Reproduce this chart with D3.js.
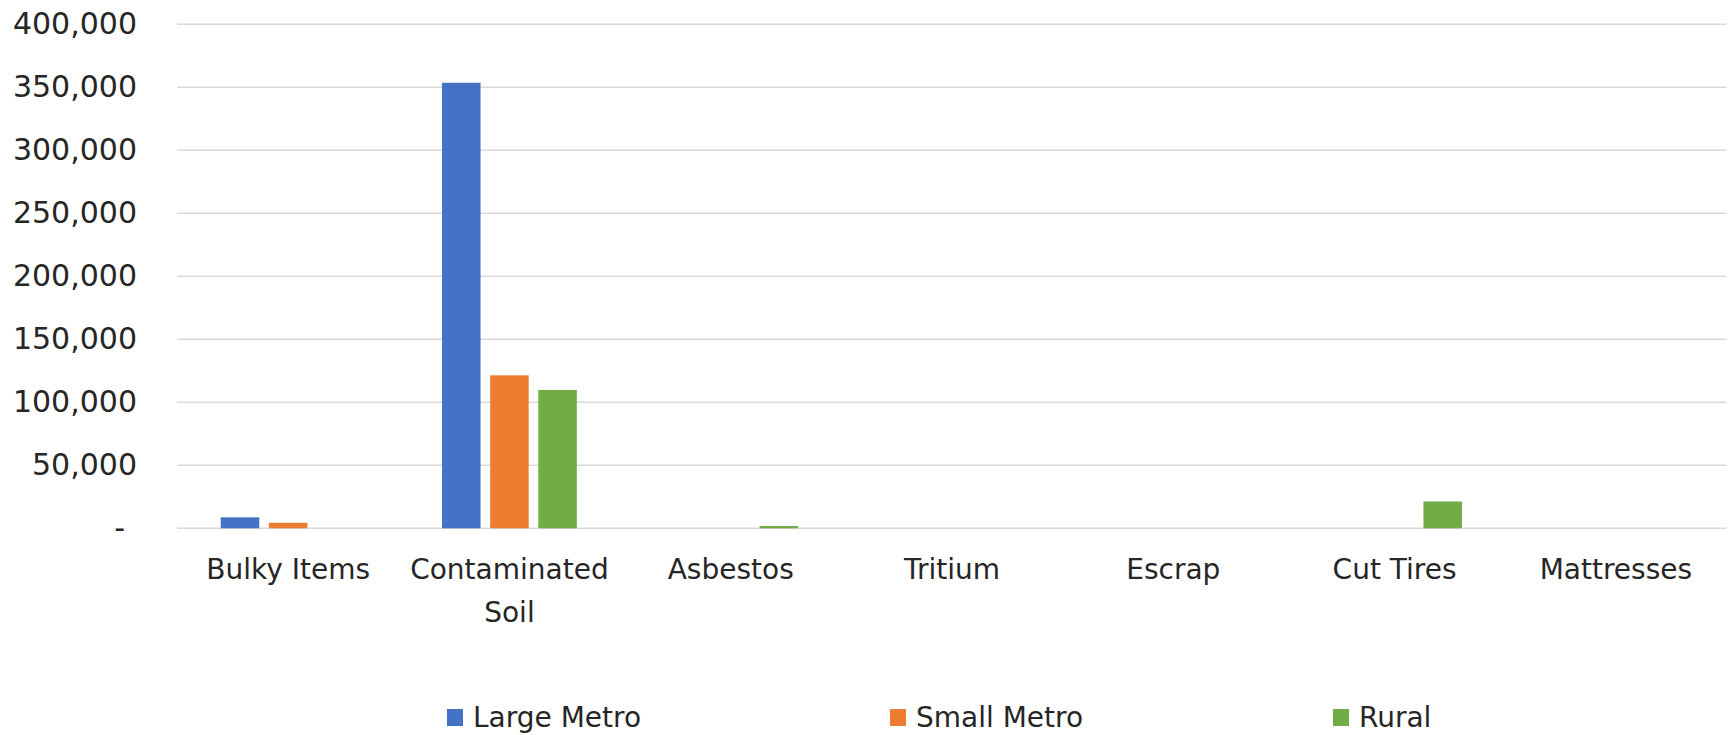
<!DOCTYPE html>
<html>
<head>
<meta charset="utf-8">
<script src="https://cdn.jsdelivr.net/npm/d3@7"></script>
<style>
  html, body { margin: 0; padding: 0; background: #fff; }
  svg { display: block; }
</style>
</head>
<body>
<script>
// ---- data ----
const categories = ["Bulky Items", "Contaminated Soil", "Asbestos", "Tritium", "Escrap", "Cut Tires", "Mattresses"];
const seriesNames = ["Large Metro", "Small Metro", "Rural"];
const largeMetro = [8700, 353600, 0, 0, 0, 0, 0];
const smallMetro = [4400, 121400, 0, 0, 0, 0, 0];
const rural      = [0, 109800, 1800, 0, 0, 21300, 0];
const yTicks = [0, 50000, 100000, 150000, 200000, 250000, 300000, 350000, 400000];
const colors = ["#4472C4", "#ED7D31", "#70AD47"];

const seriesValues = [largeMetro, smallMetro, rural];

const W = 1730, H = 735;
const svg = d3.select("body").append("svg").attr("width", W).attr("height", H);
svg.append("rect").attr("width", W).attr("height", H).attr("fill", "#fff");

const x0 = d3.scaleBand().domain(categories).range([177.5, 1726.5]).padding(0);
const x1 = d3.scaleBand().domain(seriesNames).range([0, x0.bandwidth()])
  .paddingInner(0.2).paddingOuter(0.898);
const y = d3.scaleLinear().domain([0, 400000]).range([528.3, 24.3]);

const font = "'DejaVu Sans', sans-serif";
const textColor = "#262626";

// gridlines
svg.append("g").selectAll("line").data(yTicks).join("line")
  .attr("x1", 177).attr("x2", 1726.5)
  .attr("y1", d => y(d)).attr("y2", d => y(d))
  .attr("stroke", "#d9d9d9").attr("stroke-width", 1.5);

// y-axis labels via d3 axis
const yAxis = d3.axisLeft(y).tickValues(yTicks)
  .tickFormat(d => d === 0 ? "-" : d3.format(",")(d))
  .tickSize(0).tickPadding(0);
const yg = svg.append("g").attr("transform", "translate(137,0)").call(yAxis);
yg.select(".domain").remove();
yg.selectAll("text")
  .attr("font-family", font).attr("font-size", 30).attr("fill", textColor)
  .attr("dy", "0.3em")
  .attr("dx", d => d === 0 ? -12 : 0);

// bars
const groups = svg.append("g").selectAll("g").data(categories).join("g")
  .attr("transform", d => `translate(${x0(d)},0)`);
groups.selectAll("rect").data((c, i) => seriesNames.map((s, j) => ({s, j, v: seriesValues[j][i]})))
  .join("rect")
  .attr("x", d => x1(d.s))
  .attr("width", x1.bandwidth())
  .attr("y", d => y(d.v))
  .attr("height", d => y(0) - y(d.v))
  .attr("fill", d => colors[d.j]);

// category labels via d3 axis (wrapped)
const xAxis = d3.axisBottom(x0).tickSize(0).tickPadding(0);
const xg = svg.append("g").attr("transform", "translate(0,528.3)").call(xAxis);
xg.select(".domain").remove();
xg.selectAll("text").each(function(d) {
  const t = d3.select(this);
  t.text(null).attr("font-family", font).attr("font-size", 28).attr("fill", textColor)
    .attr("y", 0).attr("dy", null);
  const lines = d === "Contaminated Soil" ? ["Contaminated", "Soil"] : [d];
  lines.forEach((ln, k) => {
    t.append("tspan").attr("x", 0).attr("y", 51 + k * 43).text(ln);
  });
});

// legend
const legend = svg.append("g");
seriesNames.forEach((s, i) => {
  const lx = 447 + i * 443;
  legend.append("rect").attr("x", lx).attr("y", 709).attr("width", 16).attr("height", 17).attr("fill", colors[i]);
  legend.append("text").attr("x", lx + 26).attr("y", 727)
    .attr("font-family", font).attr("font-size", 28).attr("fill", textColor).text(s);
});
</script>
</body>
</html>
